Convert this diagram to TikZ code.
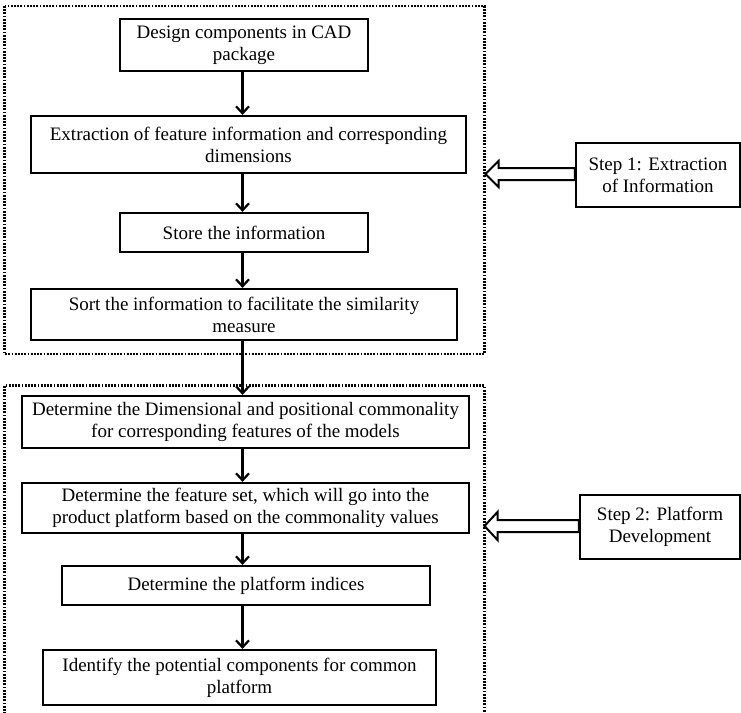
\documentclass[tikz,border=0pt]{standalone}
\usepackage{fontspec}
\setmainfont{Liberation Serif}
\usetikzlibrary{arrows.meta,calc}
\begin{document}
\begin{tikzpicture}[x=1pt,y=-1pt,
  font=\fontsize{19}{22}\selectfont,
  box/.style={draw=black,line width=2.2pt,align=center,inner sep=0pt,fill=white},
  flow/.style={line width=2.2pt,-{Straight Barb[length=7pt,width=13pt,line width=2.2pt]}},
  frame/.style={line width=2.2pt,dash pattern=on 1.8pt off 1.4pt},
  hollow/.style={line width=2pt,fill=white,line join=miter}]
\useasboundingbox (0,0) rectangle (741,712);
% dotted frames
\draw[frame] (4.5,6) rectangle (484.5,354);
\draw[frame] (4.5,714) -- (4.5,385.5) -- (484.5,385.5) -- (484.5,714);
% boxes
\node[box,minimum width=248pt,minimum height=52pt] (n1) at (244,45) {Design components in CAD\\package};
\node[box,minimum width=435pt,minimum height=57pt] (n2) at (248.5,144.5) {Extraction of feature information and corresponding\\dimensions};
\node[box,minimum width=248pt,minimum height=39pt] (n3) at (244,232.5) {Store the information};
\node[box,minimum width=426pt,minimum height=51pt] (n4) at (244,314.5) {Sort the information to facilitate the similarity\\measure};
\node[box,minimum width=447pt,minimum height=52pt] (n5) at (245.5,422) {Determine the Dimensional and positional commonality\\for corresponding features of the models};
\node[box,minimum width=447pt,minimum height=50pt] (n6) at (245.5,508) {Determine the feature set, which will go into the\\product platform based on the commonality values};
\node[box,minimum width=368pt,minimum height=39pt] (n7) at (246,585.5) {Determine the platform indices};
\node[box,minimum width=393pt,minimum height=55pt] (n8) at (239.5,677.5) {Identify the potential components for common\\platform};
% step boxes
\node[box,minimum width=164pt,minimum height=64pt] (s1) at (658,175) {Step 1: Extraction\\of Information};
\node[box,minimum width=160pt,minimum height=64pt] (s2) at (660,527) {Step 2: Platform\\Development};
% flow arrows
\coordinate (ax) at (242.5,0);
\draw[flow] (n1.south -| ax) -- (n2.north -| ax);
\draw[flow] (n2.south -| ax) -- (n3.north -| ax);
\draw[flow] (n3.south -| ax) -- (n4.north -| ax);
\draw[flow] (n4.south -| ax) -- (n5.north -| ax);
\draw[flow] (n5.south -| ax) -- (n6.north -| ax);
\draw[flow] (n6.south -| ax) -- (n7.north -| ax);
\draw[flow] (n7.south -| ax) -- (n8.north -| ax);
% hollow arrows
\coordinate (t1) at (485.5,174);
\draw[hollow] (t1) -- ++(13,-13) -- ++(0,7) -- ($(s1.west)+(0,-7)$) -- ($(s1.west)+(0,5)$) -- ($(t1)+(13,6)$) -- ++(0,7) -- cycle;
\coordinate (t2) at (484.5,526);
\draw[hollow] (t2) -- ++(13,-14) -- ++(0,8) -- ($(s2.west)+(0,-7)$) -- ($(s2.west)+(0,5)$) -- ($(t2)+(13,6)$) -- ++(0,8) -- cycle;
\end{tikzpicture}
\end{document}
